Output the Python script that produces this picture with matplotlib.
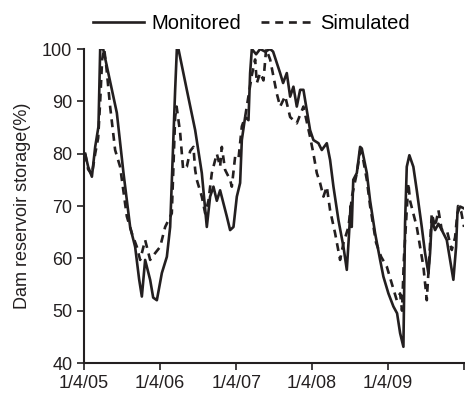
import matplotlib
matplotlib.use("Agg")
import matplotlib.pyplot as plt

plt.rcParams['font.family'] = ['Liberation Sans', 'DejaVu Sans']

# x values: months since 1 April 2005
mon_t = [0.16, 0.63, 1.22, 1.74, 2.26, 2.53, 3.0, 5.16, 6.21, 7.26, 8.05, 8.68,
         9.11, 9.63, 10.42, 10.9, 11.48, 12.27, 13.06, 13.58, 14.37, 14.64, 14.89,
         16.21, 17.53, 18.58, 19.37, 19.89, 20.42, 20.95, 21.47, 22.0, 22.53, 23.05,
         23.58, 24.11, 24.63, 24.9, 25.42, 25.95, 26.21, 26.48, 27.16, 27.79, 28.58,
         29.37, 29.84, 30.95, 31.42, 32.0, 32.53, 33.05, 33.58, 34.11, 34.63, 35.16,
         35.68, 36.21, 37.0, 37.53, 38.32, 38.84, 39.37, 40.16, 40.95, 41.48, 41.8,
         42.08, 42.26, 42.5, 43.06, 43.58, 43.85, 44.64, 45.16, 45.95, 46.74, 47.26,
         48.05, 48.84, 49.42, 49.9, 50.42, 50.68, 50.95, 51.36, 51.99, 52.53, 53.32,
         53.84, 54.37, 54.63, 54.9, 55.42, 55.95, 56.48, 57.27, 57.79, 58.31, 58.74,
         58.95, 59.37, 59.89]
mon_v = [80, 77.5, 75.6, 81.3, 85.2, 100, 100, 87.8, 76.3, 66, 62.2, 56,
         52.7, 59.7, 55.9, 52.5, 52, 57.2, 60.3, 66, 92.2, 100, 100,
         92.2, 84.5, 76.3, 66, 71.8, 73.7, 71, 73, 70.5, 68, 65.4,
         66, 71.8, 74.4, 82.6, 87, 86.4, 95.4, 100, 99, 100, 99.5,
         100, 99.5, 95.4, 93.5, 95.4, 90.9, 92.8, 89, 92.2, 92.2, 88.3,
         84.5, 82.6, 82, 80.7, 82, 78.8, 73.7, 67.3, 62.2, 57.8, 64,
         70, 66, 75, 76.3, 81.3, 81, 76.3, 71, 64.8, 59.7, 56.5,
         53.3, 50.8, 49.5, 45.7, 43.1, 66.7, 77.5, 79.7, 77.5, 73, 66,
         61, 57.1, 61, 67.3, 65.4, 66.6, 65.4, 63.5, 59.7, 55.9, 62.2,
         68.6, 69.9, 69.6]

sim_t = [0.16, 0.63, 1.22, 1.74, 2.21, 2.53, 2.84, 3.16, 3.47, 4.1, 4.89, 5.68,
         6.74, 7.53, 8.32, 8.84, 9.63, 10.42, 11.21, 12.0, 12.79, 13.84, 14.37, 14.6,
         15.16, 15.63, 16.21, 16.74, 17.26, 17.53, 17.79, 18.58, 19.11, 19.63, 20.16,
         20.95, 21.47, 21.74, 22.26, 23.05, 23.32, 23.84, 24.37, 24.9, 25.42, 26.48,
         27.0, 27.27, 27.79, 28.32, 28.74, 29.37, 30.42, 30.95, 31.74, 32.53, 33.58,
         34.63, 35.68, 36.21, 36.74, 37.26, 37.79, 38.32, 38.84, 39.63, 40.42, 40.95,
         41.74, 42.32, 43.06, 43.58, 44.05, 44.64, 45.16, 46.1, 46.9, 47.8, 48.58,
         49.37, 49.9, 50.2, 50.5, 51.2, 51.47, 52.53, 53.58, 54.11, 54.5, 54.9,
         55.42, 55.95, 56.48, 57.27, 58.06, 58.58, 59.05, 59.53, 60.0]
sim_v = [80, 77, 76, 80, 83, 90, 98, 100, 97, 89, 80.7, 77.5,
         68, 64.8, 62.2, 59.7, 63.5, 59.7, 61, 62.2, 66, 68.6, 87, 89,
         84, 77, 77.5, 80.5, 81.3, 76.9, 75, 71.8, 68.6, 71, 76.3,
         80, 77.5, 81.3, 76.9, 75, 73.7, 79.4, 79, 85.2, 87, 95,
         98, 93.5, 95.4, 94, 100, 98, 91.5, 89, 91, 87, 85.8,
         89, 83.2, 80, 76.3, 74.4, 71.8, 73.7, 69.2, 64.8, 59.7, 62.9,
         66, 72, 76.3, 80.5, 79, 75, 70, 63, 60.3, 58.4, 55.2,
         52, 53.3, 50, 60, 74.4, 71, 66, 58.4, 52, 60, 68.6,
         66, 69.2, 65.4, 65.4, 61.6, 64, 70, 69, 66]

tick_pos = [0, 12, 24, 36, 48, 60]
tick_labels = ['1/4/05', '1/4/06', '1/4/07', '1/4/08', '1/4/09', '']

ink = '#231f20'

fig = plt.figure(figsize=(4.65, 3.93), dpi=100)
ax = fig.add_axes([0.181, 0.0763, 0.817, 0.799])

ax.plot(mon_t, mon_v, color=ink, lw=1.9, label='Monitored')
ax.plot(sim_t, sim_v, color=ink, lw=1.9, dashes=(3, 2.2), label='Simulated')

ax.set_xlim(0, 60)
ax.set_ylim(40, 100)
ax.set_xticks(tick_pos)
ax.set_xticklabels(tick_labels)
ax.set_yticks(range(40, 101, 10))
ax.tick_params(direction='out', length=5, width=1.2, labelsize=13, colors=ink)
for side in ['top', 'right']:
    ax.spines[side].set_visible(False)
for side in ['left', 'bottom']:
    ax.spines[side].set_linewidth(1.5)
    ax.spines[side].set_color(ink)
ax.set_ylabel('Dam reservoir storage(%)', fontsize=13, color=ink, labelpad=8)

ax.legend(loc='center', bbox_to_anchor=(0.44, 1.08), ncol=2, frameon=False,
          fontsize=14.5, handlelength=2.5, columnspacing=1.0, handletextpad=0.4)

fig.savefig('out.png', dpi=100)
